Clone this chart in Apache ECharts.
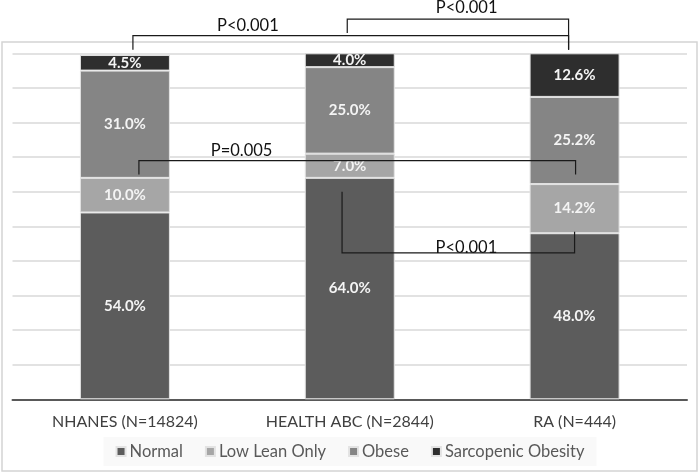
<!DOCTYPE html>
<html><head><meta charset="utf-8">
<script src="https://cdn.jsdelivr.net/npm/echarts@6/dist/echarts.min.js"></script>
<style>html,body{margin:0;padding:0;background:#fff}#c{width:700px;height:474px}</style>
</head><body><div id="c"></div>
<script>
const categories = ['NHANES (N=14824)', 'HEALTH ABC (N=2844)', 'RA (N=444)'];
const seriesNames = ['Normal', 'Low Lean Only', 'Obese', 'Sarcopenic Obesity'];
const normal = [54.0, 64.0, 48.0];
const lowLeanOnly = [10.0, 7.0, 14.2];
const obese = [31.0, 25.0, 25.2];
const sarcopenicObesity = [4.5, 4.0, 12.6];
const yTicks = [0, 10, 20, 30, 40, 50, 60, 70, 80, 90, 100];
// significance brackets: category indices, bracket level and end levels (percent), label position (category position, percent)
const bracketFrom = [0, 1, 0, 1];
const bracketTo = [2, 2, 2, 2];
const bracketLevel = [105.1, 109.9, 69.0, 42.3];
const bracketFromEnd = [101.0, 105.9, 65.0, 60.0];
const bracketToEnd = [101.0, 101.0, 65.0, 48.4];
const bracketLabel = ['P<0.001', 'P<0.001', 'P=0.005', 'P<0.001'];
const bracketLabelPos = [0.547, 1.52, 0.519, 1.519];
const bracketLabelLevel = [107.9, 113.3, 71.8, 43.9];

const colors = ['#5c5c5c', '#a6a6a6', '#858585', '#2e2e2e'];
const values = [normal, lowLeanOnly, obese, sarcopenicObesity];
const FONT = 'Lato, "Open Sans", sans-serif';

const chart = echarts.init(document.getElementById('c'), null, {renderer: 'canvas'});
const series = seriesNames.map((n, i) => ({
  name: n, type: 'bar', stack: 'total', barWidth: 90,
  data: values[i],
  itemStyle: {color: colors[i], borderColor: '#e3e3e3', borderWidth: 1},
  label: {show: true, position: 'inside', formatter: p => p.value.toFixed(1) + '%',
    color: '#f4f4f4', fontWeight: 'bold', fontSize: 15, fontFamily: FONT},
  emphasis: {disabled: true}
}));

chart.setOption({
  animation: false,
  backgroundColor: '#fff',
  grid: {left: 12.5, right: 13, top: 53.3, bottom: 74.7, containLabel: false},
  xAxis: {type: 'category', data: categories,
    axisLine: {lineStyle: {color: '#595959', width: 2}},
    axisTick: {show: false},
    axisLabel: {color: '#404040', fontSize: 16, fontFamily: FONT, margin: 15}},
  yAxis: {type: 'value', min: yTicks[0], max: yTicks[yTicks.length - 1], interval: yTicks[1] - yTicks[0],
    axisLabel: {show: false}, axisLine: {show: false}, axisTick: {show: false},
    splitLine: {lineStyle: {color: '#d9d9d9', width: 1.5}}},
  legend: {bottom: 8, left: 'center', itemWidth: 9, itemHeight: 9, itemGap: 22,
    icon: 'rect', backgroundColor: '#f9f9f9', padding: [6, 12],
    textStyle: {color: '#595959', fontSize: 16.5, fontFamily: FONT, padding: [0, 0, 0, -1]},
    data: seriesNames},
  series: series
});

function px(cat, val) { return chart.convertToPixel({gridIndex: 0}, [cat, val]); }
function cx(pos) {
  const a = Math.floor(pos), b = Math.min(a + 1, categories.length - 1);
  const pa = px(a, 0)[0], pb = px(b, 0)[0];
  return pa + (pos - a) * (pb - pa);
}
const fromOffset = [8, -2.5, 14, -7.7];
const toOffset = [-6, -6, 1, 0];
const g = [{type: 'rect', shape: {x: 2, y: 42, width: 695, height: 429}, style: {fill: 'none', stroke: '#d4d4d4', lineWidth: 1.5}, z: 0}];
for (let i = 0; i < bracketFrom.length; i++) {
  const x1 = px(bracketFrom[i], 0)[0] + fromOffset[i];
  const x2 = px(bracketTo[i], 0)[0] + toOffset[i];
  const yl = px(0, bracketLevel[i])[1];
  const y1 = px(0, bracketFromEnd[i])[1];
  const y2 = px(0, bracketToEnd[i])[1];
  g.push({type: 'polyline', shape: {points: [[x1, y1], [x1, yl], [x2, yl], [x2, y2]]},
    style: {stroke: '#1a1a1a', lineWidth: 1.2, fill: null}, z: 100});
  g.push({type: 'text', x: cx(bracketLabelPos[i]), y: px(0, bracketLabelLevel[i])[1],
    style: {text: bracketLabel[i], fill: '#111', fontSize: 16.5, fontFamily: FONT, align: 'center', verticalAlign: 'middle'}, z: 101});
}
chart.setOption({graphic: g});
</script></body></html>
